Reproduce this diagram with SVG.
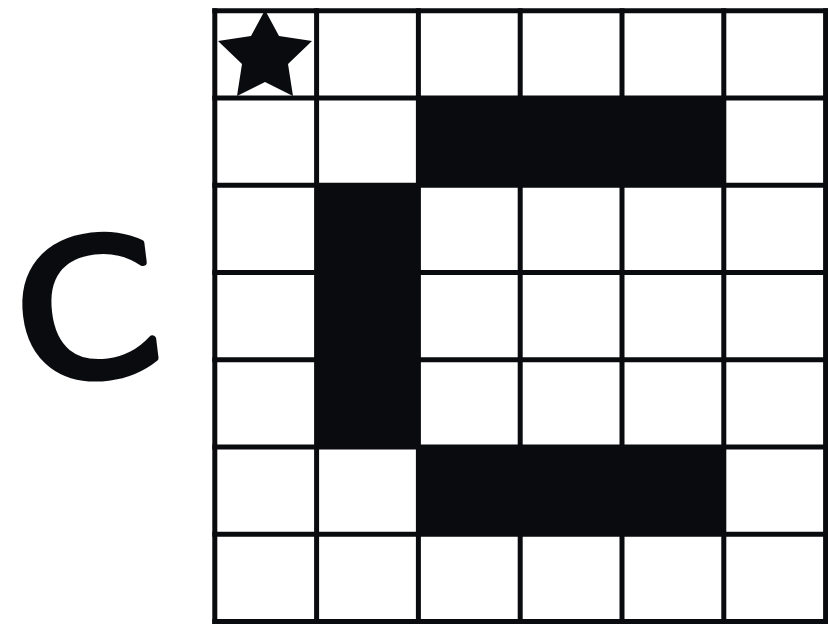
<svg xmlns="http://www.w3.org/2000/svg" width="828" height="624" viewBox="0 0 828 624">
<style>
.ink{fill:#0a0b0f}
.grid line{stroke:#0a0b0f;stroke-width:5;stroke-linecap:square}
.letter{font-family:"DejaVu Sans",sans-serif;font-size:188px;fill:#0a0b0f;stroke:#0a0b0f;stroke-width:7;stroke-linejoin:round;text-anchor:middle}
</style>
<rect width="828" height="624" fill="#ffffff"/>
<g id="label">
<text class="letter" transform="translate(87,308) rotate(-7) scale(1.1,1)" x="0" y="68.6">C</text>
</g>
<g id="filled" class="ink">
<rect x="418.4" y="98.0" width="305.4" height="87.3"/>
<rect x="418.4" y="447.0" width="305.4" height="87.2"/>
<rect x="316.6" y="185.3" width="101.8" height="261.7"/>
</g>
<g id="star">
<polygon class="ink" points="265,10 279,36 312,41 288,64 293,96 265,82 237,96 242,64 218,41 251,36"/>
</g>
<g id="grid" class="grid">
<line x1="214.8" y1="10.8" x2="214.8" y2="621.5"/>
<line x1="316.6" y1="10.8" x2="316.6" y2="621.5"/>
<line x1="418.4" y1="10.8" x2="418.4" y2="621.5"/>
<line x1="520.2" y1="10.8" x2="520.2" y2="621.5"/>
<line x1="622.0" y1="10.8" x2="622.0" y2="621.5"/>
<line x1="723.8" y1="10.8" x2="723.8" y2="621.5"/>
<line x1="825.6" y1="10.8" x2="825.6" y2="621.5"/>
<line x1="214.8" y1="10.8" x2="825.6" y2="10.8"/>
<line x1="214.8" y1="98.0" x2="825.6" y2="98.0"/>
<line x1="214.8" y1="185.3" x2="825.6" y2="185.3"/>
<line x1="214.8" y1="272.5" x2="825.6" y2="272.5"/>
<line x1="214.8" y1="359.8" x2="825.6" y2="359.8"/>
<line x1="214.8" y1="447.0" x2="825.6" y2="447.0"/>
<line x1="214.8" y1="534.2" x2="825.6" y2="534.2"/>
<line x1="214.8" y1="621.5" x2="825.6" y2="621.5"/>
</g>
</svg>
